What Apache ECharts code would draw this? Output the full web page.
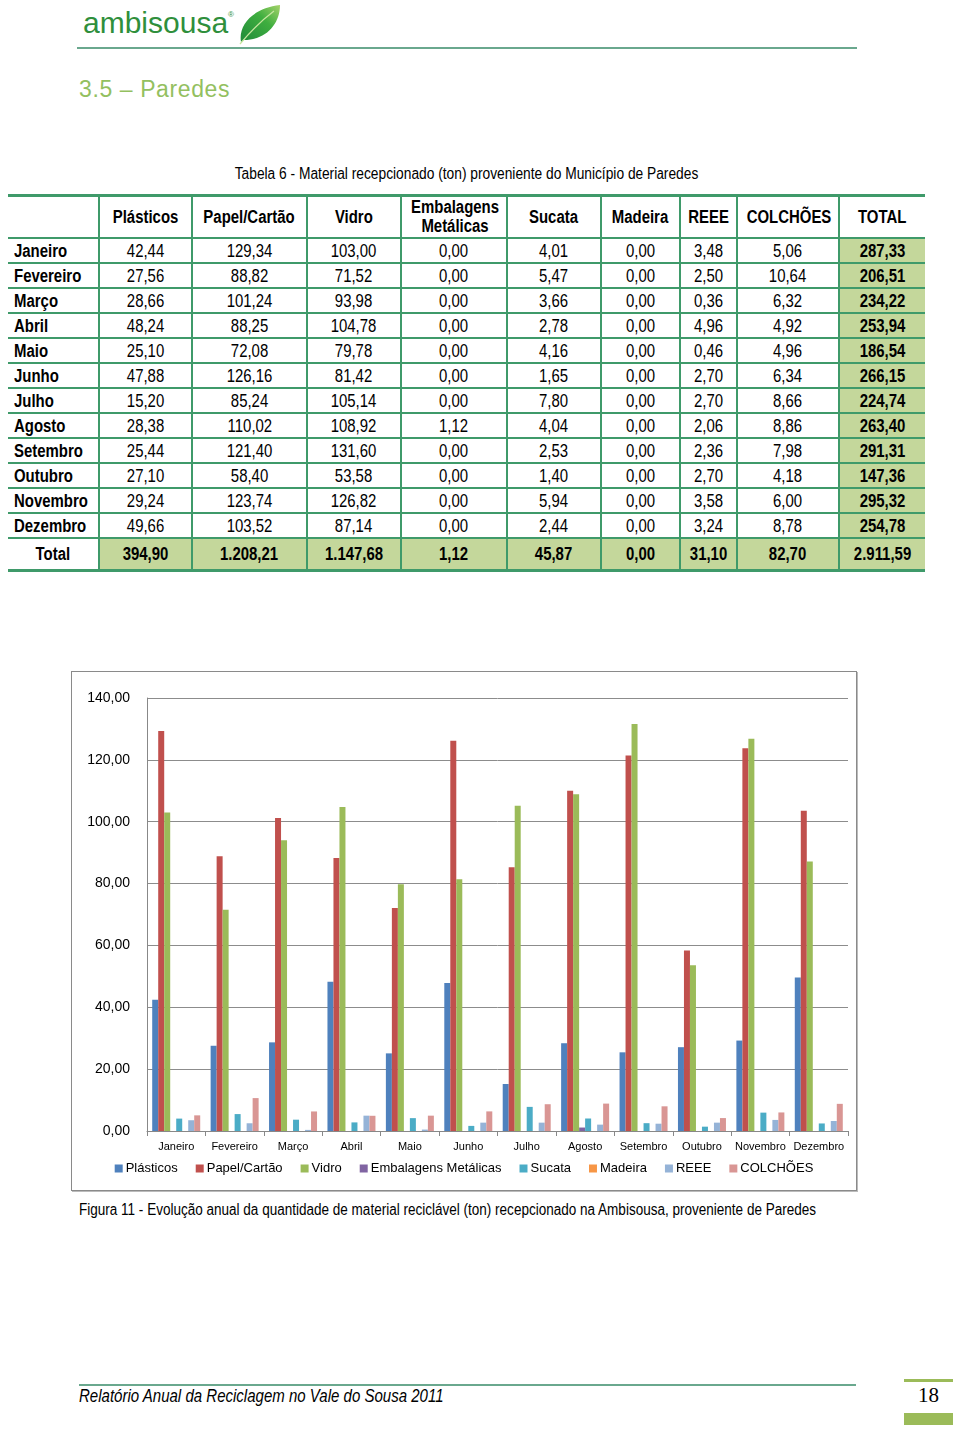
<!DOCTYPE html>
<html>
<head>
<meta charset="utf-8">
<script src="https://cdn.jsdelivr.net/npm/echarts@6/dist/echarts.min.js"></script>
<style>
  body { margin: 0; background: #fff; width: 960px; height: 1429px; position: relative; overflow: hidden;
         font-family: "Liberation Sans Narrow", "Arial Narrow", "Liberation Sans", sans-serif; color: #000; }
  .abs { position: absolute; }
  .n { display: inline-block; transform: scaleX(0.83); white-space: nowrap; }
  .nl { display: inline-block; transform: scaleX(0.83); transform-origin: left center; white-space: nowrap; }
  #logo { left: 83px; top: 6px; font-family: "Liberation Sans", Arial, sans-serif; font-size: 30px; color: #2f8f3c; }
  #topline { left: 77px; top: 47px; width: 780px; height: 0; border-top: 2px solid #6aa88e; }
  #heading { left: 79px; top: 76px; font-family: "Liberation Sans", Arial, sans-serif; font-size: 23px; color: #93c05f; letter-spacing: 0.6px; }
  #tabtitle { left: 0; width: 932px; top: 165px; text-align: center; font-size: 16px; }
  table { position: absolute; left: 8px; top: 194px; border-collapse: collapse; font-size: 18px; table-layout: fixed; width: 917px; }
  td { border: 2px solid #3f9a6a; text-align: center; padding: 0; height: 23px; line-height: 20px; overflow: visible; }
  tr.head td { font-weight: bold; height: 40px; border-top: 3px solid #3f9a6a; line-height: 19px; }
  tr.tot td { font-weight: bold; height: 30px; border-bottom: 3px solid #3f9a6a; }
  td.lbl { text-align: left; font-weight: bold; padding-left: 6px; border-left: none; }
  tr.tot td.lbl { text-align: center; padding-left: 0; }
  td.last { border-right: none; }
  td.fill { background: #c4d79b; font-weight: bold; }
  #chartbox { left: 71px; top: 671px; width: 784px; height: 518px; border: 1px solid #8a8a8a; box-shadow: 1px 1px 0 #bbb; }
  #chart { left: 0; top: 0; width: 784px; height: 518px; }
  #caption { left: 79px; top: 1201px; font-size: 16px; }
  #footline { left: 79px; top: 1384px; width: 777px; border-top: 2px solid #6aa88e; }
  #foot { left: 79px; top: 1386px; font-size: 18px; font-style: italic; }
  #pagenum { left: 918px; top: 1383px; font-family: "Liberation Serif", "Times New Roman", serif; font-size: 21px; }
  #gtop { left: 904px; top: 1379px; width: 49px; height: 3px; background: #9bbb59; }
  #gbot { left: 904px; top: 1413px; width: 49px; height: 12px; background: #9bbb59; }
</style>
</head>
<body>
<div id="logo" class="abs">ambisousa<sup style="font-size:8px;vertical-align:16px">®</sup></div>
<svg class="abs" style="left:236px;top:2px" width="48" height="44" viewBox="0 0 48 44">
  <defs>
    <linearGradient id="lg" x1="0" y1="1" x2="1" y2="0">
      <stop offset="0" stop-color="#1f8a3a"/>
      <stop offset="0.6" stop-color="#3fae3f"/>
      <stop offset="1" stop-color="#a6d36a"/>
    </linearGradient>
  </defs>
  <path d="M5 40 C 2 22, 18 6, 44 3 C 44 22, 30 38, 8 38 Z" fill="url(#lg)"/>
  <path d="M4 42 C 14 30, 26 18, 38 9" stroke="#c8e6a0" stroke-width="1.2" fill="none"/>
</svg>
<div id="topline" class="abs"></div>
<div id="heading" class="abs">3.5 – Paredes</div>
<div id="tabtitle" class="abs"><span class="n" style="transform:scaleX(0.86)">Tabela 6 - Material recepcionado (ton) proveniente do Município de Paredes</span></div>
<table id="tab"></table>
<div id="chartbox" class="abs"><div id="chart" class="abs"></div></div>
<div id="caption" class="abs"><span class="nl" style="transform:scaleX(0.845)">Figura 11 - Evolução anual da quantidade de material reciclável (ton) recepcionado na Ambisousa, proveniente de Paredes</span></div>
<div id="footline" class="abs"></div>
<div id="foot" class="abs"><span class="nl" style="transform:scaleX(0.835)">Relatório Anual da Reciclagem no Vale do Sousa 2011</span></div>
<div id="pagenum" class="abs">18</div>
<div id="gtop" class="abs"></div>
<div id="gbot" class="abs"></div>

<script>
var months = ['Janeiro', 'Fevereiro', 'Março', 'Abril', 'Maio', 'Junho', 'Julho', 'Agosto', 'Setembro', 'Outubro', 'Novembro', 'Dezembro'];
var materials = ['Plásticos', 'Papel/Cartão', 'Vidro', 'Embalagens Metálicas', 'Sucata', 'Madeira', 'REEE', 'COLCHÕES'];
var headLabels = ['Plásticos', 'Papel/Cartão', 'Vidro', 'Embalagens<br>Metálicas', 'Sucata', 'Madeira', 'REEE', 'COLCHÕES', 'TOTAL'];

var plasticos = [42.44, 27.56, 28.66, 48.24, 25.10, 47.88, 15.20, 28.38, 25.44, 27.10, 29.24, 49.66];
var papel = [129.34, 88.82, 101.24, 88.25, 72.08, 126.16, 85.24, 110.02, 121.40, 58.40, 123.74, 103.52];
var vidro = [103.00, 71.52, 93.98, 104.78, 79.78, 81.42, 105.14, 108.92, 131.60, 53.58, 126.82, 87.14];
var embalagens = [0, 0, 0, 0, 0, 0, 0, 1.12, 0, 0, 0, 0];
var sucata = [4.01, 5.47, 3.66, 2.78, 4.16, 1.65, 7.80, 4.04, 2.53, 1.40, 5.94, 2.44];
var madeira = [0, 0, 0, 0, 0, 0, 0, 0, 0, 0, 0, 0];
var reee = [3.48, 2.50, 0.36, 4.96, 0.46, 2.70, 2.70, 2.06, 2.36, 2.70, 3.58, 3.24];
var colchoes = [5.06, 10.64, 6.32, 4.92, 4.96, 6.34, 8.66, 8.86, 7.98, 4.18, 6.00, 8.78];
var totalMes = [287.33, 206.51, 234.22, 253.94, 186.54, 266.15, 224.74, 263.40, 291.31, 147.36, 295.32, 254.78];
var totalMaterial = [394.90, 1208.21, 1147.68, 1.12, 45.87, 0.00, 31.10, 82.70, 2911.59];

var yTicks = { min: 0, max: 140, interval: 20 };
var colors = ['#4f81bd', '#c0504d', '#9bbb59', '#8064a2', '#4bacc6', '#f79646', '#95b3d7', '#d99694'];
var colWidths = [91, 93, 115, 94, 106, 94, 79, 57, 102, 86];

var seriesData = [plasticos, papel, vidro, embalagens, sucata, madeira, reee, colchoes];

// Portuguese number format: 1.208,21
function fmt(v) {
    var parts = v.toFixed(2).split('.');
    parts[0] = parts[0].replace(/\B(?=(\d{3})+(?!\d))/g, '.');
    return parts.join(',');
}
function n(t) { return '<span class="n">' + t + '</span>'; }
function nl(t) { return '<span class="nl">' + t + '</span>'; }

// table
var html = '<colgroup>';
colWidths.forEach(function (w) { html += '<col style="width:' + w + 'px">'; });
html += '</colgroup>';
html += '<tr class="head"><td class="lbl"></td>';
headLabels.forEach(function (h, i) {
    html += '<td' + (i === headLabels.length - 1 ? ' class="last"' : '') + '>' + n(h) + '</td>';
});
html += '</tr>';
months.forEach(function (m, r) {
    html += '<tr><td class="lbl">' + nl(m) + '</td>';
    seriesData.forEach(function (s) {
        html += '<td>' + n(fmt(s[r])) + '</td>';
    });
    html += '<td class="fill last">' + n(fmt(totalMes[r])) + '</td></tr>';
});
html += '<tr class="tot"><td class="lbl">' + n('Total') + '</td>';
totalMaterial.forEach(function (v, i) {
    html += '<td class="fill' + (i === totalMaterial.length - 1 ? ' last' : '') + '">' + n(fmt(v)) + '</td>';
});
html += '</tr>';
document.getElementById('tab').innerHTML = html;

// chart
var myChart = echarts.init(document.getElementById('chart'));
var font = '"Liberation Sans Narrow", "Arial Narrow", "Liberation Sans", sans-serif';

option = {
    animation: false,
    color: colors,
    textStyle: { fontFamily: font },
    grid: { left: 75, right: 8, top: 26, bottom: 59 },
    legend: {
        bottom: 10,
        left: 'center',
        itemWidth: 8,
        itemHeight: 8,
        itemGap: 18,
        icon: 'rect',
        textStyle: { fontFamily: font, fontSize: 13, color: '#000', padding: [0, 0, 0, -2] },
        data: materials
    },
    xAxis: {
        type: 'category',
        data: months,
        axisLine: { lineStyle: { color: '#888', width: 1 } },
        axisTick: { show: true, length: 5, lineStyle: { color: '#888' } },
        axisLabel: { fontSize: 11, color: '#000', margin: 10, interval: 0 }
    },
    yAxis: {
        type: 'value',
        min: yTicks.min,
        max: yTicks.max,
        interval: yTicks.interval,
        axisLine: { show: true, lineStyle: { color: '#888', width: 1 } },
        axisTick: { show: false },
        splitLine: { lineStyle: { color: '#8c8c8c', width: 1 } },
        axisLabel: { fontSize: 14, color: '#000', margin: 17, formatter: function (v) { return fmt(v); } }
    },
    series: materials.map(function (name, i) {
        return {
            name: name,
            type: 'bar',
            data: seriesData[i],
            barWidth: 6,
            barGap: '0%',
            itemStyle: { color: colors[i] }
        };
    })
};

myChart.setOption(option);
</script>
</body>
</html>
